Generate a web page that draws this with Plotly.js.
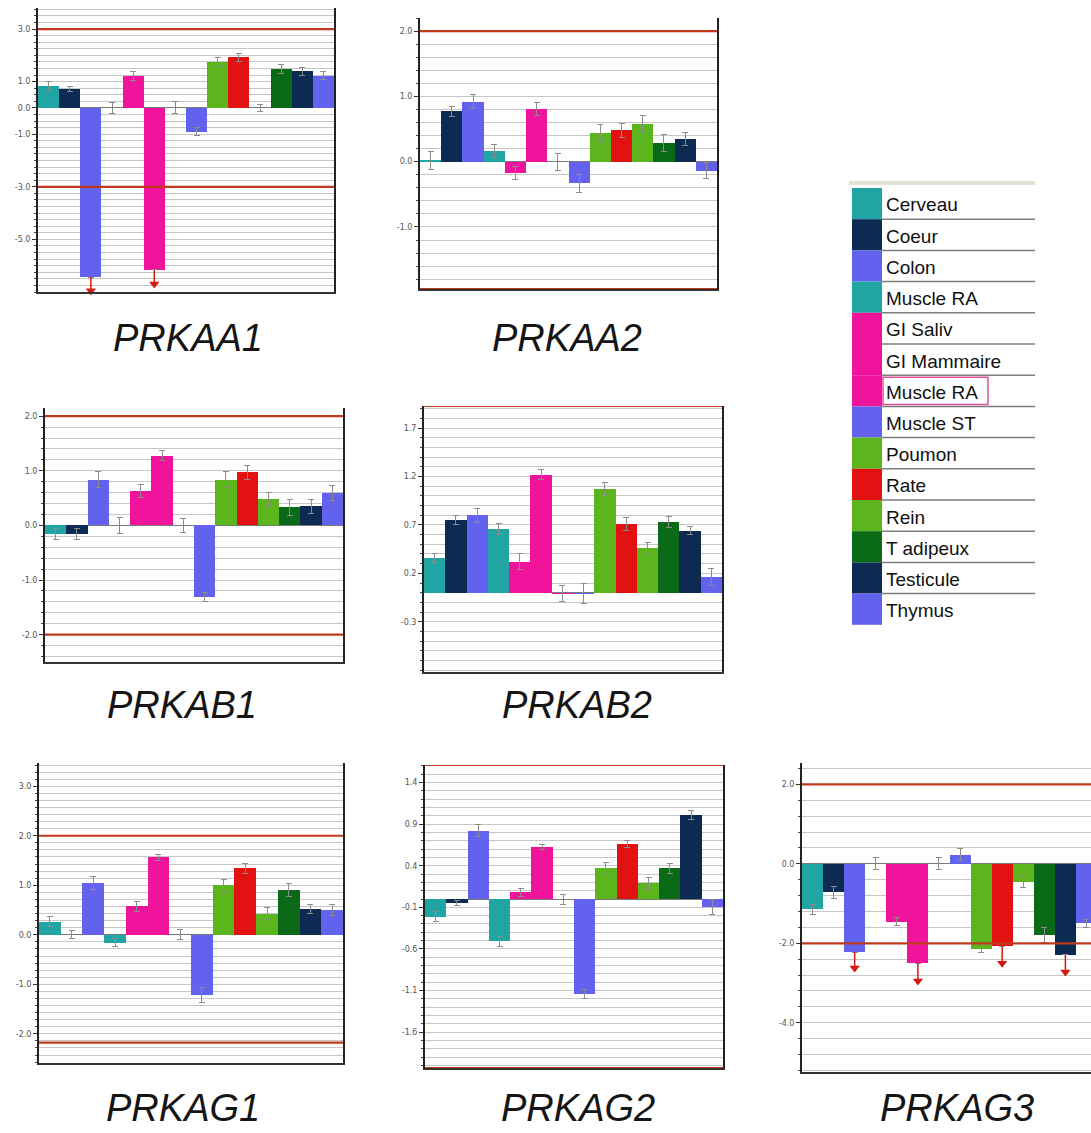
<!DOCTYPE html>
<html><head><meta charset="utf-8">
<script src="https://cdn.plot.ly/plotly-3.0.1.min.js"></script>
<style>html,body{margin:0;padding:0;overflow:hidden;background:#fff;width:1091px;height:1133px}</style>
</head><body><div id="chart" style="width:1100px;height:1133px"></div>
<script>
// ---- data ----
const categories = ["Cerveau","Coeur","Colon","Muscle RA","GI Saliv","GI Mammaire","Muscle RA","Muscle ST","Poumon","Rate","Rein","T adipeux","Testicule","Thymus"];
const tissueColors = ["#21a4a4","#0c2a52","#6262ee","#21a4a4","#f0139b","#f0139b","#f0139b","#6262ee","#5db51e","#e31212","#5db51e","#0b6a17","#0c2a52","#6262ee"];
const genes = ["PRKAA1","PRKAA2","PRKAB1","PRKAB2","PRKAG1","PRKAG2","PRKAG3"];

const valsPRKAA1 = [0.85, 0.71, -6.44, 0.0, 1.23, -6.16, 0.0, -0.91, 1.76, 1.93, 0.0, 1.48, 1.39, 1.23];
const errPRKAA1  = [0.17, 0.10, 0, 0.20, 0.17, 0, 0.23, 0.15, 0.17, 0.15, 0.14, 0.17, 0.15, 0.15];
const arrowPRKAA1 = [null, null, -6.95, null, null, -6.70, null, null, null, null, null, null, null, null];

const valsPRKAA2 = [0.02, 0.77, 0.92, 0.17, -0.17, 0.81, 0.0, -0.33, 0.44, 0.48, 0.58, 0.28, 0.34, -0.14];
const errPRKAA2  = [0.14, 0.08, 0.11, 0.10, 0.10, 0.10, 0.13, 0.14, 0.13, 0.11, 0.12, 0.13, 0.10, 0.12];

const valsPRKAB1 = [-0.15, -0.16, 0.84, 0.0, 0.63, 1.28, 0.0, -1.31, 0.84, 0.97, 0.48, 0.33, 0.35, 0.59];
const errPRKAB1  = [0.10, 0.10, 0.14, 0.15, 0.12, 0.10, 0.12, 0.08, 0.14, 0.13, 0.13, 0.15, 0.13, 0.14];

const valsPRKAB2 = [0.36, 0.75, 0.80, 0.66, 0.32, 1.22, -0.01, -0.01, 1.07, 0.71, 0.46, 0.73, 0.64, 0.16];
const errPRKAB2  = [0.05, 0.05, 0.07, 0.06, 0.08, 0.05, 0.08, 0.10, 0.07, 0.07, 0.06, 0.06, 0.04, 0.09];

const valsPRKAG1 = [0.26, 0.0, 1.04, -0.16, 0.58, 1.57, 0.0, -1.22, 1.00, 1.34, 0.43, 0.90, 0.52, 0.50];
const errPRKAG1  = [0.10, 0.08, 0.13, 0.08, 0.10, 0.06, 0.10, 0.15, 0.12, 0.10, 0.12, 0.13, 0.10, 0.12];

const valsPRKAG2 = [-0.21, -0.05, 0.82, -0.51, 0.08, 0.62, 0.0, -1.14, 0.37, 0.66, 0.19, 0.37, 1.01, -0.10];
const errPRKAG2  = [0.06, 0.03, 0.07, 0.06, 0.05, 0.03, 0.06, 0.05, 0.07, 0.04, 0.07, 0.06, 0.05, 0.09];

const valsPRKAG3 = [-1.14, -0.71, -2.22, 0.0, -1.46, -2.50, 0.0, 0.23, -2.14, -2.08, -0.45, -1.79, -2.29, -1.49];
const errPRKAG3  = [0.13, 0.15, 0, 0.15, 0.10, 0, 0.15, 0.15, 0.10, 0, 0.15, 0.20, 0, 0.10];
const arrowPRKAG3 = [null, null, -2.62, null, null, -2.95, null, null, null, -2.50, null, null, -2.72, null];

const tickPRKAA1 = [3.0, 1.0, 0.0, -1.0, -3.0, -5.0];
const tickPRKAA2 = [2.0, 1.0, 0.0, -1.0];
const tickPRKAB1 = [2.0, 1.0, 0.0, -1.0, -2.0];
const tickPRKAB2 = [1.7, 1.2, 0.7, 0.2, -0.3];
const tickPRKAG1 = [3.0, 2.0, 1.0, 0.0, -1.0, -2.0];
const tickPRKAG2 = [1.4, 0.9, 0.4, -0.1, -0.6, -1.1, -1.6];
const tickPRKAG3 = [2.0, 0.0, -2.0, -4.0];

const limitPRKAA1 = [3.0, -3.0];
const limitPRKAA2 = [2.0, -1.95];
const limitPRKAB1 = [2.0, -2.0];
const limitPRKAB2 = [1.93];
const limitPRKAG1 = [2.0, -2.18];
const limitPRKAG2 = [1.61, -2.03];
const limitPRKAG3 = [2.0, -2.0];

// ---- layout (pixel geometry) ----
const W = 1100, H = 1133;
const panels = [
  {vals: valsPRKAA1, err: errPRKAA1, arrows: arrowPRKAA1, ticks: tickPRKAA1, limits: limitPRKAA1, px:[38,334],  py:[8,292],    range:[-7.0,3.8],   grid:0.25,  title:[188,338]},
  {vals: valsPRKAA2, err: errPRKAA2, arrows: null,        ticks: tickPRKAA2, limits: limitPRKAA2, px:[420,717], py:[18,289],   range:[-1.95,2.2],  grid:0.2,   title:[567,338]},
  {vals: valsPRKAB1, err: errPRKAB1, arrows: null,        ticks: tickPRKAB1, limits: limitPRKAB1, px:[45,343],  py:[408,662],  range:[-2.5,2.15],  grid:0.2,   title:[182,705]},
  {vals: valsPRKAB2, err: errPRKAB2, arrows: null,        ticks: tickPRKAB2, limits: limitPRKAB2, px:[424,722], py:[406,672],  range:[-0.82,1.93], grid:0.1,   title:[577,705]},
  {vals: valsPRKAG1, err: errPRKAG1, arrows: null,        ticks: tickPRKAG1, limits: limitPRKAG1, px:[39,343],  py:[763,1063], range:[-2.59,3.47], grid:1/7,   title:[183,1108]},
  {vals: valsPRKAG2, err: errPRKAG2, arrows: null,        ticks: tickPRKAG2, limits: limitPRKAG2, px:[425,723], py:[765,1068], range:[-2.03,1.61], grid:0.1,   title:[578,1108]},
  {vals: valsPRKAG3, err: errPRKAG3, arrows: arrowPRKAG3, ticks: tickPRKAG3, limits: limitPRKAG3, px:[802,1097],py:[763,1072], range:[-5.24,2.54], grid:0.4,   title:[957,1108]}
];

const idx = categories.map((_, i) => i);
const traces = [];
const shapes = [];
const annotations = [];
const layout = {
  width: W, height: H, autosize: false,
  margin: {l:0, r:0, t:0, b:0, pad:0},
  paper_bgcolor: '#ffffff', plot_bgcolor: '#ffffff',
  showlegend: false, bargap: 0,
  font: {family: 'Liberation Sans, Arial, sans-serif', color: '#222'}
};

panels.forEach((p, k) => {
  const n = k === 0 ? '' : String(k + 1);
  const xa = 'x' + n, ya = 'y' + n;
  traces.push({
    type: 'bar', x: idx, y: p.vals, xaxis: xa, yaxis: ya,
    marker: {color: tissueColors, line: {width: 0}},
    error_y: {type: 'data', array: p.err, visible: true, color: '#8c8c8c', thickness: 1, width: 3},
    hoverinfo: 'skip'
  });
  if (p.arrows) {
    const ax = [], ay = [], up = [];
    p.arrows.forEach((t, i) => { if (t !== null) { ax.push(i); ay.push(t); up.push(p.vals[i] - t); } });
    traces.push({
      type: 'scatter', mode: 'markers', x: ax, y: ay, xaxis: xa, yaxis: ya, cliponaxis: false,
      marker: {symbol: 'triangle-down', size: 9, color: '#d41a10'},
      error_y: {type: 'data', symmetric: false, array: up, arrayminus: ay.map(() => 0), color: '#d41a10', thickness: 1.5, width: 0},
      hoverinfo: 'skip'
    });
  }
  layout['xaxis' + n] = {
    domain: [p.px[0] / W, p.px[1] / W], anchor: ya, range: [-0.5, 13.5],
    showticklabels: false, showgrid: false, zeroline: false, ticks: '',
    showline: true, linecolor: '#333', linewidth: 2, fixedrange: true
  };
  layout['yaxis' + n] = {
    domain: [1 - p.py[1] / H, 1 - p.py[0] / H], anchor: xa, range: p.range,
    tickmode: 'array', tickvals: p.ticks, ticktext: p.ticks.map(v => v.toFixed(1)),
    ticks: 'outside', ticklen: 4, tickcolor: '#333', tickwidth: 1,
    tickfont: {size: 8, color: '#555', family: 'DejaVu Sans, sans-serif'},
    showgrid: false, showline: true, linecolor: '#222', linewidth: 2, mirror: true,
    zeroline: true, zerolinecolor: '#7a7a7a', zerolinewidth: 1,
    minor: {tickmode: 'linear', tick0: 0, dtick: p.grid, showgrid: true, gridcolor: '#c6c6c6', gridwidth: 1, ticks: 'outside', ticklen: 2, tickcolor: '#444'},
    fixedrange: true
  };
  p.limits.forEach(v => {
    shapes.push({type: 'line', xref: xa + ' domain', yref: ya, x0: 0, x1: 1, y0: v, y1: v,
      line: {color: '#bf3a1c', width: 2.2}, layer: 'above'});
  });
  annotations.push({
    xref: 'paper', yref: 'paper', x: p.title[0] / W, y: 1 - p.title[1] / H,
    xanchor: 'center', yanchor: 'middle', showarrow: false, text: genes[k],
    font: {family: 'Liberation Sans, Arial, sans-serif', size: 38, style: 'italic', color: '#151515'}
  });
});

// ---- legend table built from categories / colors ----
const LX0 = 852, LX1 = 882, LX2 = 1035, LY0 = 188, ROW = 31.2;
shapes.push({type: 'rect', xref: 'paper', yref: 'paper', x0: 849 / W, x1: LX2 / W, y0: 1 - 185 / H, y1: 1 - 181 / H,
  fillcolor: '#e3e0d4', line: {width: 0}});
categories.forEach((c, i) => {
  const top = LY0 + ROW * i, bot = top + ROW;
  shapes.push({type: 'rect', xref: 'paper', yref: 'paper', x0: LX0 / W, x1: LX1 / W, y0: 1 - bot / H, y1: 1 - top / H,
    fillcolor: tissueColors[i], line: {width: 0}});
  if (i < categories.length - 1) {
    shapes.push({type: 'line', xref: 'paper', yref: 'paper', x0: LX1 / W, x1: LX2 / W, y0: 1 - bot / H, y1: 1 - bot / H,
      line: {color: '#7d7d7d', width: 1.5}});
  }
  annotations.push({xref: 'paper', yref: 'paper', x: 884 / W, y: 1 - (top + 17) / H, xanchor: 'left', yanchor: 'middle',
    showarrow: false, text: c, font: {family: 'Liberation Sans, Arial, sans-serif', size: 19, color: '#111'}});
  if (i === 6) {
    shapes.push({type: 'rect', xref: 'paper', yref: 'paper', x0: 883 / W, x1: 988 / W, y0: 1 - (bot - 2) / H, y1: 1 - (top + 2) / H,
      fillcolor: 'rgba(0,0,0,0)', line: {color: '#de5596', width: 1.5}});
  }
});

layout.shapes = shapes;
layout.annotations = annotations;
Plotly.newPlot('chart', traces, layout, {displayModeBar: false, staticPlot: true});
</script>
</body></html>
